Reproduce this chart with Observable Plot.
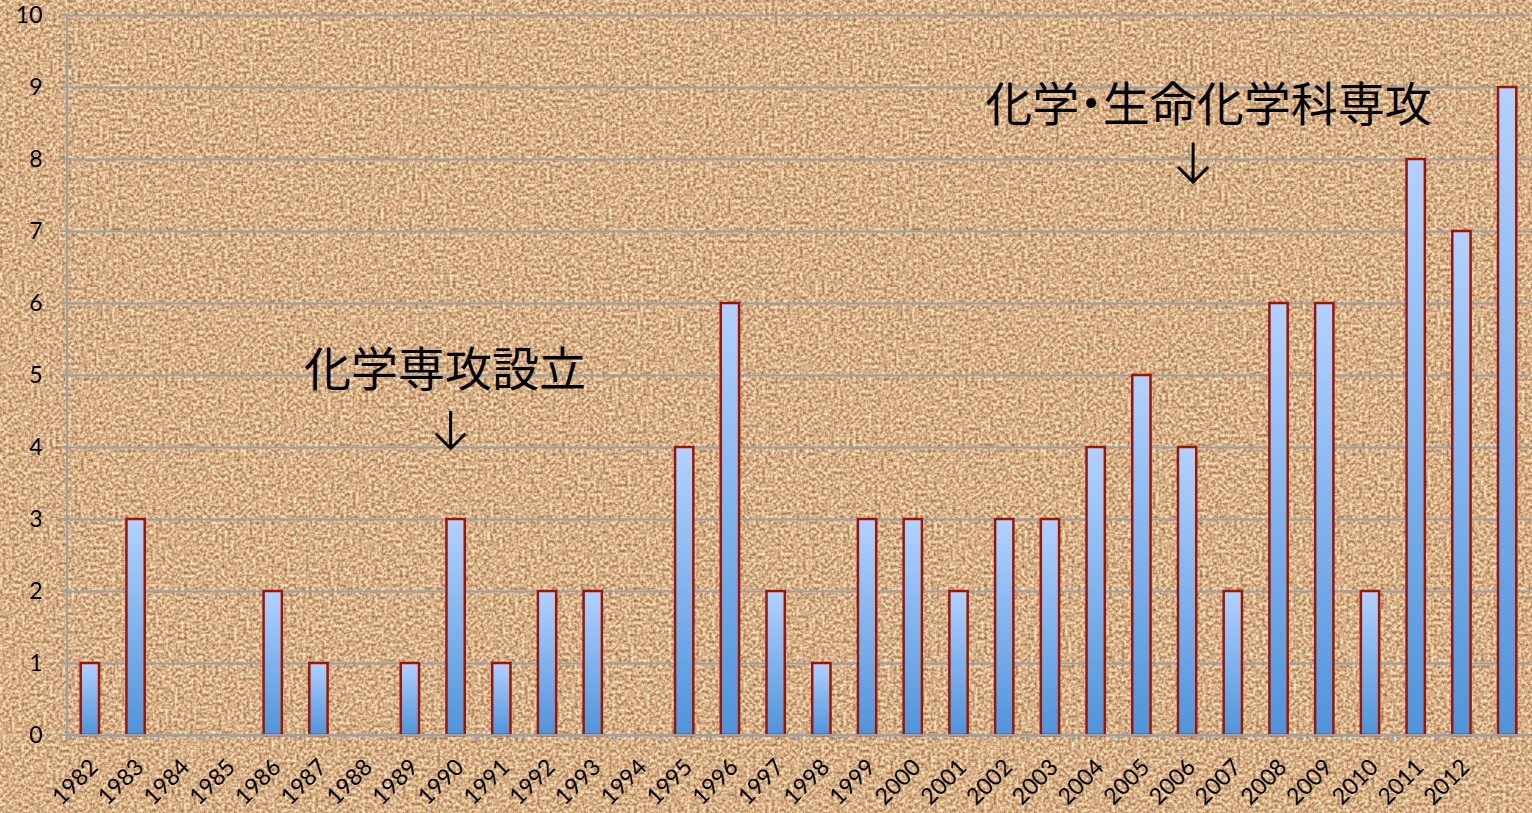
<!DOCTYPE html>
<html><head><meta charset="utf-8">
<script src="https://cdn.jsdelivr.net/npm/d3@7"></script>
<script src="https://cdn.jsdelivr.net/npm/@observablehq/plot@0.6"></script>
<style>
  html,body{margin:0;padding:0;background:#d6ae87;}
  #chart svg{display:block;}
</style>
</head><body><div id="chart"></div>
<script>
const years = ["1982","1983","1984","1985","1986","1987","1988","1989","1990","1991","1992","1993","1994","1995","1996","1997","1998","1999","2000","2001","2002","2003","2004","2005","2006","2007","2008","2009","2010","2011","2012","2013"];
const counts = [1,3,0,0,2,1,0,1,3,1,2,2,0,4,6,2,1,3,3,2,3,3,4,5,4,2,6,6,2,8,7,9];
const xTickLabels = ["1982","1983","1984","1985","1986","1987","1988","1989","1990","1991","1992","1993","1994","1995","1996","1997","1998","1999","2000","2001","2002","2003","2004","2005","2006","2007","2008","2009","2010","2011","2012"];
const yTicks = [0,1,2,3,4,5,6,7,8,9,10];
const note1 = {year: "1990", value: 5.07, text: "化学専攻設立"};
const note2 = {year: "2006", value: 8.75, text: "化学・生命化学科専攻"};
const arrowsData = [
  {year: "1990", from: 4.5, to: 3.98},
  {year: "2006", from: 8.23, to: 7.68}
];

const data = years.map((y, i) => ({year: y, count: counts[i]}));

const GRID = "#9ba0a6";

function bandCenter(x, yr) {
  let bw = x.bandwidth;
  if (typeof bw === "function") bw = bw();
  if (!isFinite(bw)) bw = 0;
  return x(yr) + bw / 2;
}

function axisLines(index, scales, values, dims) {
  const {x, y} = scales;
  const left = dims.marginLeft;
  const right = dims.width - dims.marginRight;
  const bottom = dims.height - dims.marginBottom;
  const offset = x(years[0]) - left;
  const g = d3.create("svg:g").attr("stroke", GRID).attr("stroke-width", 2).attr("fill", "none");
  for (const v of yTicks) {
    g.append("line").attr("x1", left - 7).attr("x2", left).attr("y1", y(v)).attr("y2", y(v));
  }
  g.append("line").attr("x1", left - 7).attr("x2", right).attr("y1", y(0)).attr("y2", y(0));
  g.append("line").attr("x1", left).attr("x2", left).attr("y1", y(10)).attr("y2", bottom + 7);
  years.forEach((yr, i) => {
    if (i === 0) return;
    const bx = x(yr) - offset;
    g.append("line").attr("x1", bx).attr("x2", bx).attr("y1", bottom).attr("y2", bottom + 7);
  });
  return g.node();
}

function arrowMarks(index, scales) {
  const {x, y} = scales;
  const g = d3.create("svg:g").attr("stroke", "#000").attr("stroke-width", 3).attr("fill", "none")
    .attr("stroke-linecap", "butt").attr("stroke-linejoin", "miter");
  const shifts = [-5, 6];
  arrowsData.forEach((a, i) => {
    const cx = bandCenter(x, a.year) + shifts[i];
    const y1 = y(a.from), y2 = y(a.to);
    const h = 15;
    g.append("path").attr("d", `M${cx},${y1}L${cx},${y2 - 1}M${cx - h},${y2 - h}L${cx},${y2}L${cx + h},${y2 - h}`);
  });
  return g.node();
}

const plot = Plot.plot({
  width: 1532,
  height: 813,
  marginLeft: 67,
  marginRight: 2,
  marginTop: 15,
  marginBottom: 78,
  style: {background: "transparent", fontFamily: "Lato, 'Noto Sans', sans-serif", color: "#000"},
  x: {type: "band", domain: years, paddingInner: 0.6, paddingOuter: 0.3, round: false, axis: null},
  y: {domain: [0, 10], axis: null},
  marks: [
    Plot.ruleY(yTicks, {y: d => d, stroke: GRID, strokeWidth: 2}),
    Plot.barY(data.filter(d => d.count > 0), {x: "year", y: "count", fill: "url(#barGrad)", stroke: "#9c1408", strokeWidth: 2.5}),
    axisLines,
    Plot.text(yTicks, {y: d => d, frameAnchor: "left", dx: -25, textAnchor: "end", text: d => String(d), fontSize: 23, fill: "#000"}),
    Plot.text(xTickLabels, {x: d => d, frameAnchor: "bottom", rotate: -45, textAnchor: "end", dx: 9, dy: 33, text: d => d, fontSize: 23, fill: "#000"}),
    Plot.text([note1], {x: "year", y: "value", text: "text", dx: -11, fontSize: 47, fontFamily: "'Noto Sans CJK JP'", fill: "#000"}),
    Plot.text([note2], {x: "year", y: "value", text: "text", dx: 21, fontSize: 47, fontFamily: "'Noto Sans CJK JP'", fill: "#000"}),
    arrowMarks
  ]
});

const svg = d3.select(plot);
svg.selectAll("text").filter(function() { return this.textContent === note2.text; })
  .style("font-feature-settings", "'palt'");
const defs = svg.insert("defs", ":first-child");
const grad = defs.append("linearGradient").attr("id", "barGrad").attr("x1", 0).attr("y1", 0).attr("x2", 0).attr("y2", 1);
grad.append("stop").attr("offset", "0%").attr("stop-color", "#b2d2ff");
grad.append("stop").attr("offset", "100%").attr("stop-color", "#4f94da");
const filt = defs.append("filter").attr("id", "sand").attr("x", 0).attr("y", 0).attr("width", "100%").attr("height", "100%")
  .attr("color-interpolation-filters", "sRGB");
filt.append("feTurbulence").attr("type", "fractalNoise").attr("baseFrequency", "0.32").attr("numOctaves", 2).attr("seed", 11).attr("result", "n");
filt.append("feColorMatrix").attr("in", "n").attr("type", "matrix")
  .attr("values", "0.7 0 0 0 0.49  0.8 0 0 0 0.29  0.8 0 0 0 0.13  0 0 0 0 1");
svg.insert("rect", "defs + *").attr("x", 0).attr("y", 0).attr("width", 1532).attr("height", 813).attr("fill", "#d6ae87").attr("filter", "url(#sand)");

document.getElementById("chart").appendChild(plot);
</script>
</body></html>
